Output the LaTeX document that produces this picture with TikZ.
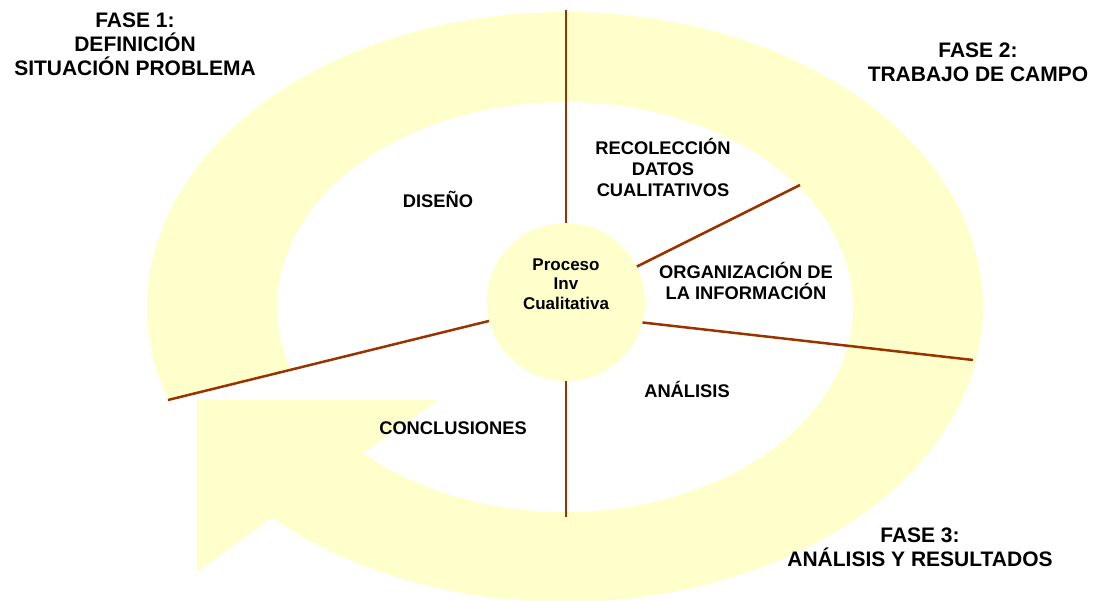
\documentclass[tikz,border=0pt]{standalone}
\usepackage{fontspec}
\setmainfont{Liberation Sans}
\usetikzlibrary{calc}

\definecolor{ringyellow}{RGB}{255,255,204}
\definecolor{spokebrown}{RGB}{153,51,0}

\begin{document}
\begin{tikzpicture}[x=1pt, y=1pt,
  ring/.style={fill=ringyellow},
  hub/.style={
    circle,
    fill=ringyellow,
    minimum size=158pt,
    inner sep=0pt
  },
  spoke/.style={draw=spokebrown, line width=2.5pt},
  phase/.style={align=center, font=\bfseries\fontsize{21}{24}\selectfont},
  stage/.style={align=center, font=\bfseries\fontsize{18.3}{21}\selectfont},
  hubtext/.style={align=center, font=\bfseries\fontsize{17}{19.5}\selectfont}
]
\useasboundingbox (0,0) rectangle (1101,601);

% the ring, cut open at the left, with its arrow head
\coordinate (c) at (565,294);
\fill[ring] ($(c)+(-134.5:418pt and 295pt)$)
  arc[start angle=-134.5, end angle=198.3, x radius=418pt, y radius=295pt]
  -- ($(c)+(197.8:288pt and 205pt)$)
  arc[start angle=197.8, end angle=-134.5, x radius=288pt, y radius=205pt]
  -- (438,201) -- (197,201) -- (197,29) -- cycle;

\node[hub] (proc) at (566,299) {};

\coordinate (upend) at (566,591);
\coordinate (downend) at (566,84);
\coordinate (recend) at (800,416);
\coordinate (orgend) at (973,241);
\coordinate (conend) at (168,201);

\draw[spoke] (proc) -- (upend);
\draw[spoke] (proc) -- (downend);
\draw[spoke] (proc) -- (recend);
\draw[spoke] (proc.-15) -- (orgend);
\draw[spoke] (proc) -- (conend);

\node[hubtext] (proctxt) at (566,317) {Proceso\\Inv\\Cualitativa};

\node[phase] (f1) at (135,557) {FASE 1:\\DEFINICIÓN\\SITUACIÓN PROBLEMA};
\node[phase] (f2) at (978,539) {FASE 2:\\TRABAJO DE CAMPO};
\node[phase] (f3) at (920,54) {FASE 3:\\ANÁLISIS Y RESULTADOS};

\node[stage] (rec) at (663,434) {RECOLECCIÓN\\DATOS\\CUALITATIVOS};
\node[stage] (dis) at (438,402) {DISEÑO};
\node[stage] (org) at (746,320) {ORGANIZACIÓN DE\\LA INFORMACIÓN};
\node[stage] (ana) at (687,212) {ANÁLISIS};
\node[stage] (con) at (453,173) {CONCLUSIONES};
\end{tikzpicture}
\end{document}
